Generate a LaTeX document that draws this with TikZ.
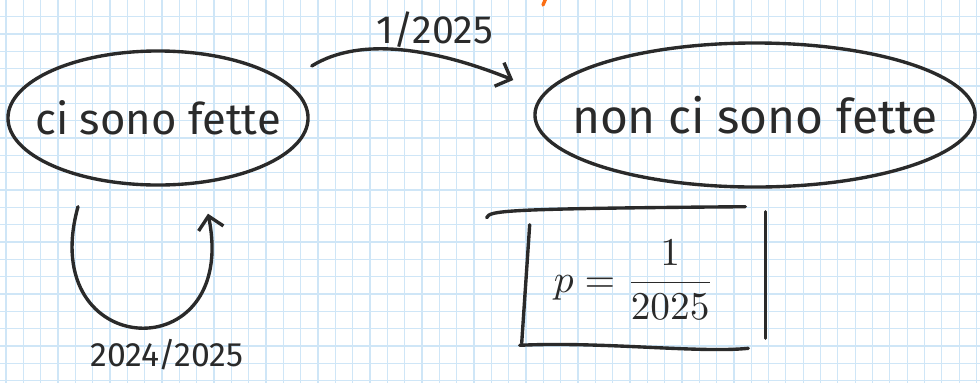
\documentclass[tikz,border=0pt]{standalone}
\usepackage{amsmath}
\usepackage{fontspec}
\setmainfont{Fira Sans}
\definecolor{sketchink}{RGB}{42,42,42}
\definecolor{sketchgrid}{RGB}{207,230,247}
\definecolor{sketchorange}{RGB}{250,110,20}
\usepackage{tikz}
\usetikzlibrary{shapes.geometric,arrows.meta,calc}

\begin{document}
\begin{tikzpicture}[x=0.025cm, y=-0.025cm,
  ink/.style={draw=sketchink, line width=2.4pt, line cap=round, line join=round},
  statebox/.style={ellipse, ink, inner sep=0pt, text=sketchink, font=\fontsize{31}{36}\selectfont},
  barb/.style={-{Straight Barb[length=9pt, width=18pt]}},
  lbl/.style={text=sketchink, inner sep=0pt}]
\useasboundingbox (0,0) rectangle (980,383);
\fill[white] (0,0) rectangle (980,383);
% squared paper
\foreach \gx in {0,...,56}{
  \draw[sketchgrid, line width=0.9pt] ({6+\gx*17.33},0) -- ({6+\gx*17.33},383);
}
\foreach \gy in {0,...,21}{
  \draw[sketchgrid, line width=0.9pt] (0,{16.7+\gy*17.33}) -- (980,{16.7+\gy*17.33});
}
\draw[sketchorange, line width=2.4pt, line cap=round] (546,-2) -- (543,5);

\node[statebox, minimum width=7.5cm, minimum height=3.35cm] (ci) at (158,118) {\makebox[0pt]{ci sono fette}};
\node[statebox, minimum width=11cm, minimum height=3.6cm, font=\fontsize{34}{40}\selectfont] (non) at (755,115) {\makebox[0pt]{non ci sono fette}};

% transition and self loop
\draw[ink, barb] ([shift={(2,-52)}]ci.east) .. controls ($(ci.east)+(52,-83)$) and ($(non.west)+(-95,-65)$) .. ([shift={(-20,-35)}]non.west);
\node[lbl, font=\fontsize{28}{32}\selectfont] (pchange) at (435,30) {1/2025};

\draw[ink, barb] ([shift={(-80,20)}]ci.south) .. controls ($(ci.south)+(-123,175)$) and ($(ci.south)+(82,185)$) .. ([shift={(50,27)}]ci.south);
\node[lbl, font=\fontsize{24}{28}\selectfont] (pstay) at (167,355) {2024/2025};

% framed result
\node[lbl, minimum width=6cm, minimum height=3.25cm] (pbox) at (640,280) {\hspace*{-0.3cm}\scalebox{2.8}{$p=\dfrac{1}{2025}$}};
\draw[ink] ([shift={(-33,3)}]pbox.north west) .. controls ([shift={(-30,-4)}]pbox.north west) and ([shift={(-20,-6)}]pbox.north west) .. ([shift={(-15,-8)}]pbox.north east);
\draw[ink] ([shift={(10,10)}]pbox.north west) -- ([shift={(2,-2)}]pbox.south west);
\draw[ink] ([shift={(5,-3)}]pbox.north east) -- ([shift={(5,-7)}]pbox.south east);
\draw[ink] (pbox.south west) .. controls ([shift={(80,-4)}]pbox.south west) and ([shift={(-60,8)}]pbox.south east) .. ([shift={(-12,3)}]pbox.south east);
\end{tikzpicture}
\end{document}
